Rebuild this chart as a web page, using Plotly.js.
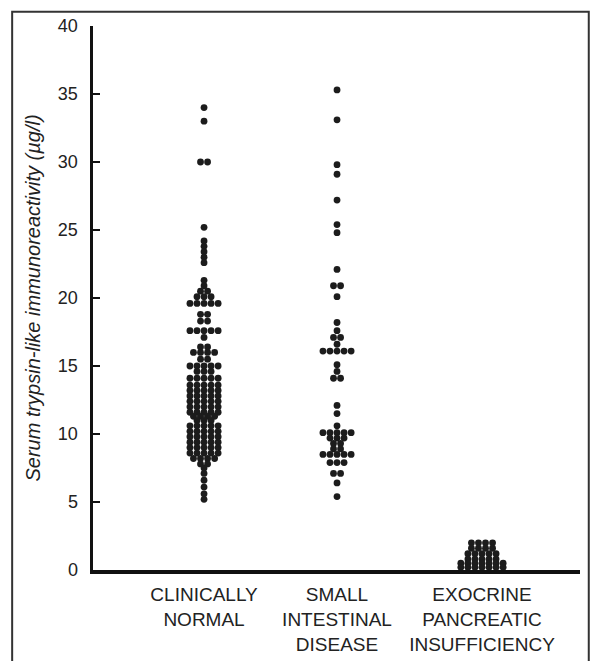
<!DOCTYPE html>
<html>
<head>
<meta charset="utf-8">
<script src="https://cdn.plot.ly/plotly-3.0.1.min.js"></script>
<style>
  html, body { margin: 0; padding: 0; background: #fff; }
  #chart { width: 591px; height: 661px; }
</style>
</head>
<body>
<div id="chart"></div>
<script>
// ---- Data (µg/l) ----
const groupLabels = ["CLINICALLY<br>NORMAL", "SMALL<br>INTESTINAL<br>DISEASE", "EXOCRINE<br>PANCREATIC<br>INSUFFICIENCY"];

const clinicallyNormal = [
  34, 33, 30, 30, 25.2,
  24.2, 23.8, 23.4, 23, 22.6,
  21.3, 20.9, 20.5, 20.5,
  20.1, 20.1, 20.1,
  19.6, 19.6, 19.6, 19.6, 19.6,
  18.8, 18.8, 18.3, 18.3,
  17.6, 17.6, 17.6, 17.6, 17.6,
  17.1,
  16.4, 16.4,
  16.0, 16.0, 16.0, 16.0,
  15.5, 15.5,
  15.0, 15.0, 15.0, 15.0, 15.0,
  14.6, 14.6, 14.6,
  14.1, 14.1, 14.1, 14.1, 14.1,
  13.6, 13.6, 13.6, 13.6, 13.6,
  13.2, 13.2, 13.2, 13.2, 13.2,
  12.8, 12.8, 12.8, 12.8, 12.8,
  12.4, 12.4, 12.4, 12.4, 12.4,
  12.0, 12.0, 12.0, 12.0, 12.0,
  11.6, 11.6, 11.6, 11.6, 11.6,
  11.3, 11.3, 11.3, 11.3,
  11.0, 11.0, 11.0,
  10.6, 10.6, 10.6, 10.6, 10.6,
  10.2, 10.2, 10.2, 10.2, 10.2,
  9.8, 9.8, 9.8, 9.8, 9.8,
  9.4, 9.4, 9.4, 9.4, 9.4,
  9.0, 9.0, 9.0, 9.0, 9.0,
  8.6, 8.6, 8.6, 8.6, 8.6,
  8.2, 8.2, 8.2, 8.2,
  7.8, 7.8,
  7.5, 7.1, 6.6, 6.1, 5.6, 5.2
];

const smallIntestinal = [
  35.3, 33.1, 29.8, 29.1, 27.2, 25.4, 24.8, 22.1,
  20.9, 20.9, 20.1,
  18.2, 17.6, 17.1, 17.1, 16.6,
  16.1, 16.1, 16.1, 16.1, 16.1,
  15.1, 14.6, 14.1, 14.1,
  12.1, 11.5, 10.6,
  10.1, 10.1, 10.1, 10.1, 10.1,
  9.7, 9.7, 9.7,
  9.3, 9.3,
  8.9, 8.9,
  8.5, 8.5, 8.5, 8.5, 8.5,
  7.9, 7.9, 7.9,
  7.1, 7.1,
  6.4, 5.4
];

const exocrinePancreatic = [
  2.0, 2.0, 2.0, 2.0,
  1.6, 1.6, 1.6, 1.6,
  1.2, 1.2, 1.2, 1.2, 1.2,
  0.8, 0.8, 0.8, 0.8, 0.8,
  0.5, 0.5, 0.5, 0.5, 0.5, 0.5, 0.5,
  0.2, 0.2, 0.2, 0.2, 0.2, 0.2, 0.2
];

const yTicks = [0, 5, 10, 15, 20, 25, 30, 35, 40];

// ---- Layout parameters (not data) ----
const groupPos = [0, 1, 2.09];
const dotStep = 0.053; // horizontal spacing of dots in a swarm row (x units)

function swarm(values, center) {
  const counts = {};
  values.forEach(v => { counts[v] = (counts[v] || 0) + 1; });
  const seen = {};
  const xs = [], ys = [];
  values.forEach(v => {
    const n = counts[v];
    const i = seen[v] || 0;
    seen[v] = i + 1;
    xs.push(center + (i - (n - 1) / 2) * dotStep);
    ys.push(v);
  });
  return { xs, ys };
}

const groups = [clinicallyNormal, smallIntestinal, exocrinePancreatic];
const traces = groups.map((vals, g) => {
  const s = swarm(vals, groupPos[g]);
  return {
    type: "scatter",
    mode: "markers",
    x: s.xs,
    y: s.ys,
    cliponaxis: false,
    marker: { size: 6.8, color: "#1c1c1c", line: { width: 0 } },
    hoverinfo: "y",
    showlegend: false
  };
});

const font = "Liberation Sans, Arial, Helvetica, sans-serif";

const layout = {
  width: 591,
  height: 661,
  margin: { l: 93, r: 11, t: 26, b: 91 },
  paper_bgcolor: "#ffffff",
  plot_bgcolor: "#ffffff",
  showlegend: false,
  font: { family: font, color: "#222", size: 17 },
  xaxis: {
    range: [-0.835, 2.827],
    tickvals: groupPos,
    ticktext: groupLabels,
    ticks: "",
    showgrid: false,
    zeroline: false,
    showline: true,
    linecolor: "#111",
    linewidth: 3.5,
    tickfont: { family: font, size: 19, color: "#222" },
    ticklabelstandoff: 5,
    fixedrange: true
  },
  yaxis: {
    range: [0, 40],
    tickvals: yTicks,
    ticks: "inside",
    ticklen: 7,
    tickwidth: 2.5,
    tickcolor: "#111",
    showgrid: false,
    zeroline: false,
    showline: true,
    linecolor: "#111",
    linewidth: 3.5,
    tickfont: { family: font, size: 18, color: "#222" },
    ticklabelstandoff: 8,
    title: {
      text: "<i>Serum trypsin-like immunoreactivity (µg/l)</i>",
      font: { family: font, size: 20, color: "#222" },
      standoff: 13
    },
    fixedrange: true
  },
  shapes: [
    {
      type: "rect",
      xref: "paper", yref: "paper",
      x0: -0.166, x1: 1.018,
      y0: -0.2, y1: 1.026,
      line: { color: "#333", width: 2 },
      fillcolor: "rgba(0,0,0,0)",
      layer: "below"
    }
  ]
};

Plotly.newPlot("chart", traces, layout, { displayModeBar: false, staticPlot: true });
</script>
</body>
</html>
